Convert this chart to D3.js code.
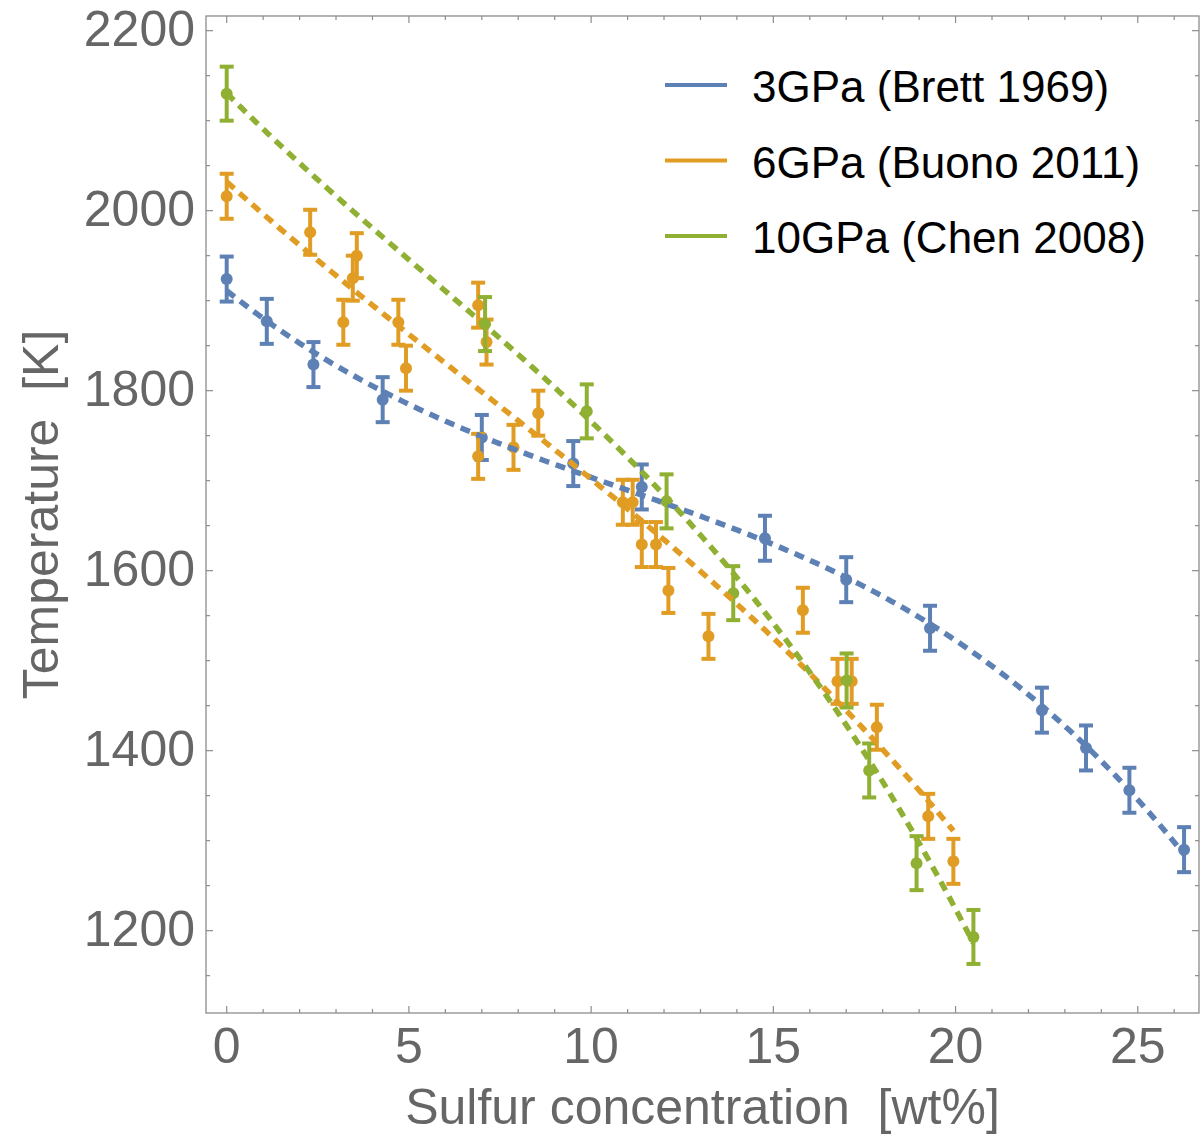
<!DOCTYPE html>
<html>
<head>
<meta charset="utf-8">
<script src="https://cdn.jsdelivr.net/npm/d3@7"></script>
<style>
  html, body { margin: 0; padding: 0; background: #fff; }
  svg { display: block; }
  text { font-family: "Liberation Sans", Arial, Helvetica, sans-serif; }
</style>
</head>
<body>
<svg id="chart" width="1200" height="1137"></svg>
<script>
// Liquidus temperature of Fe–FeS vs. sulfur content at three pressures

const seriesNames = ["3GPa (Brett 1969)", "6GPa (Buono 2011)", "10GPa (Chen 2008)"];
const seriesColors = ["#5E81B5", "#E19C24", "#8FB032"];

// 3 GPa
const s3x = [0, 1.1, 2.38, 4.28, 7.0, 9.51, 11.39, 14.77, 17.0, 19.3, 22.37, 23.58, 24.77, 26.27];
const s3t = [1924, 1877, 1829, 1790, 1748, 1719, 1693, 1636, 1590, 1536, 1445, 1403, 1356, 1290];
const s3err = 25;

// 6 GPa
const s6x = [0, 2.29, 3.2, 3.46, 3.57, 4.71, 4.92, 6.9, 7.13, 6.9, 7.87, 8.55, 10.87, 11.14, 11.39, 11.78, 12.12, 13.22, 15.81, 16.76, 17.15, 17.84, 19.25, 19.94];
const s6t = [2016, 1976, 1876, 1925, 1950, 1876, 1825, 1895, 1854, 1727, 1737, 1775, 1676, 1676, 1629, 1629, 1578, 1527, 1556, 1477, 1477, 1426, 1327, 1277];
const s6err = 25;

// 10 GPa
const s10x = [0, 7.09, 9.88, 12.07, 13.9, 17.01, 17.63, 18.93, 20.49];
const s10t = [2130, 1874, 1777, 1677, 1575, 1478, 1378, 1275, 1193];
const s10err = 30;

// polynomial degree of each trend curve
const fitDegrees = [3, 3, 3];

// axis ticks
const xMajorTicks = [0, 5, 10, 15, 20, 25];
const yMajorTicks = [1200, 1400, 1600, 1800, 2000, 2200];

const series = [
  { xs: s3x, ts: s3t, err: s3err },
  { xs: s6x, ts: s6t, err: s6err },
  { xs: s10x, ts: s10t, err: s10err }
];

const svg = d3.select("#chart");
const L = 206, R = 1199, T = 16, B = 1013;

const x = d3.scaleLinear().domain([-0.568, 26.68]).range([L, R]);
const y = d3.scaleLinear().domain([1108.5, 2216.3]).range([B, T]);

const frameColor = "#8c8c8c";
const labelColor = "#666666";

// least-squares polynomial fit, solved via normal equations
function polyFit(xs, ys, deg) {
  const n = deg + 1;
  const sc = d3.max(xs);
  const A = Array.from({ length: n }, () => new Array(n + 1).fill(0));
  for (let k = 0; k < xs.length; k++) {
    const p = [];
    for (let i = 0; i < n; i++) p.push(Math.pow(xs[k] / sc, i));
    for (let i = 0; i < n; i++) {
      for (let j = 0; j < n; j++) A[i][j] += p[i] * p[j];
      A[i][n] += p[i] * ys[k];
    }
  }
  for (let c = 0; c < n; c++) {
    let piv = c;
    for (let r = c + 1; r < n; r++) if (Math.abs(A[r][c]) > Math.abs(A[piv][c])) piv = r;
    [A[c], A[piv]] = [A[piv], A[c]];
    for (let r = 0; r < n; r++) {
      if (r === c) continue;
      const f = A[r][c] / A[c][c];
      for (let j = c; j <= n; j++) A[r][j] -= f * A[c][j];
    }
  }
  const coef = A.map((row, i) => row[n] / row[i]);
  return v => coef.reduce((s, c, i) => s + c * Math.pow(v / sc, i), 0);
}

const plot = svg.append("g");

// error bars and points
series.forEach((s, si) => {
  const col = seriesColors[si];
  const g = plot.append("g");
  s.xs.forEach((xv, i) => {
    const tv = s.ts[i];
    const cx = x(xv);
    g.append("line").attr("x1", cx).attr("x2", cx)
      .attr("y1", y(tv - s.err)).attr("y2", y(tv + s.err))
      .attr("stroke", col).attr("stroke-width", 4);
    [tv - s.err, tv + s.err].forEach(e => {
      g.append("line").attr("x1", cx - 7).attr("x2", cx + 7)
        .attr("y1", y(e)).attr("y2", y(e))
        .attr("stroke", col).attr("stroke-width", 4);
    });
    g.append("circle").attr("cx", cx).attr("cy", y(tv)).attr("r", 6).attr("fill", col);
  });
});

// fitted dashed curves
series.forEach((s, si) => {
  const f = polyFit(s.xs, s.ts, fitDegrees[si]);
  const x0 = d3.min(s.xs), x1 = d3.max(s.xs);
  const pts = d3.range(0, 201).map(k => {
    const xv = x0 + (x1 - x0) * k / 200;
    return [xv, f(xv)];
  });
  plot.append("path")
    .datum(pts)
    .attr("d", d3.line().x(d => x(d[0])).y(d => y(d[1])))
    .attr("fill", "none")
    .attr("stroke", seriesColors[si])
    .attr("stroke-width", 5.5)
    .attr("stroke-dasharray", "10,7");
});

// frame
svg.append("rect").attr("x", L).attr("y", T).attr("width", R - L).attr("height", B - T)
  .attr("fill", "none").attr("stroke", frameColor).attr("stroke-width", 1.3);

// ticks (inward, on all four sides)
const xMinor = d3.range(0, 27, 1);
const yMinor = d3.range(1150, 2201, 50);
const tickG = svg.append("g").attr("stroke", frameColor).attr("stroke-width", 1.2);
xMinor.forEach(v => {
  const len = xMajorTicks.includes(v) ? 7 : 4;
  tickG.append("line").attr("x1", x(v)).attr("x2", x(v)).attr("y1", B).attr("y2", B - len);
  tickG.append("line").attr("x1", x(v)).attr("x2", x(v)).attr("y1", T).attr("y2", T + len);
});
yMinor.forEach(v => {
  const len = yMajorTicks.includes(v) ? 7 : 4;
  tickG.append("line").attr("x1", L).attr("x2", L + len).attr("y1", y(v)).attr("y2", y(v));
  tickG.append("line").attr("x1", R).attr("x2", R - len).attr("y1", y(v)).attr("y2", y(v));
});

// tick labels
svg.append("g").selectAll("text").data(xMajorTicks).join("text")
  .attr("x", d => x(d)).attr("y", 1063)
  .attr("text-anchor", "middle").attr("font-size", 50).attr("fill", labelColor)
  .text(d => d);
svg.append("g").selectAll("text").data(yMajorTicks).join("text")
  .attr("x", 195).attr("y", d => y(d) + 15)
  .attr("text-anchor", "end").attr("font-size", 50).attr("fill", labelColor)
  .text(d => d);

// axis titles
svg.append("text").attr("x", (L + R) / 2).attr("y", 1124)
  .attr("text-anchor", "middle").attr("font-size", 50).attr("fill", labelColor)
  .attr("xml:space", "preserve")
  .text("Sulfur concentration  [wt%]");
svg.append("text")
  .attr("transform", `translate(58,${(T + B) / 2}) rotate(-90)`)
  .attr("text-anchor", "middle").attr("font-size", 50).attr("fill", labelColor)
  .attr("xml:space", "preserve")
  .text("Temperature  [K]");

// legend
const legend = svg.append("g");
seriesNames.forEach((name, i) => {
  const ly = 85 + i * 75.5;
  legend.append("line").attr("x1", 665).attr("x2", 727).attr("y1", ly).attr("y2", ly)
    .attr("stroke", seriesColors[i]).attr("stroke-width", 4);
  legend.append("text").attr("x", 752).attr("y", ly + 17)
    .attr("font-size", 44).attr("fill", "#000").text(name);
});
</script>
</body>
</html>
